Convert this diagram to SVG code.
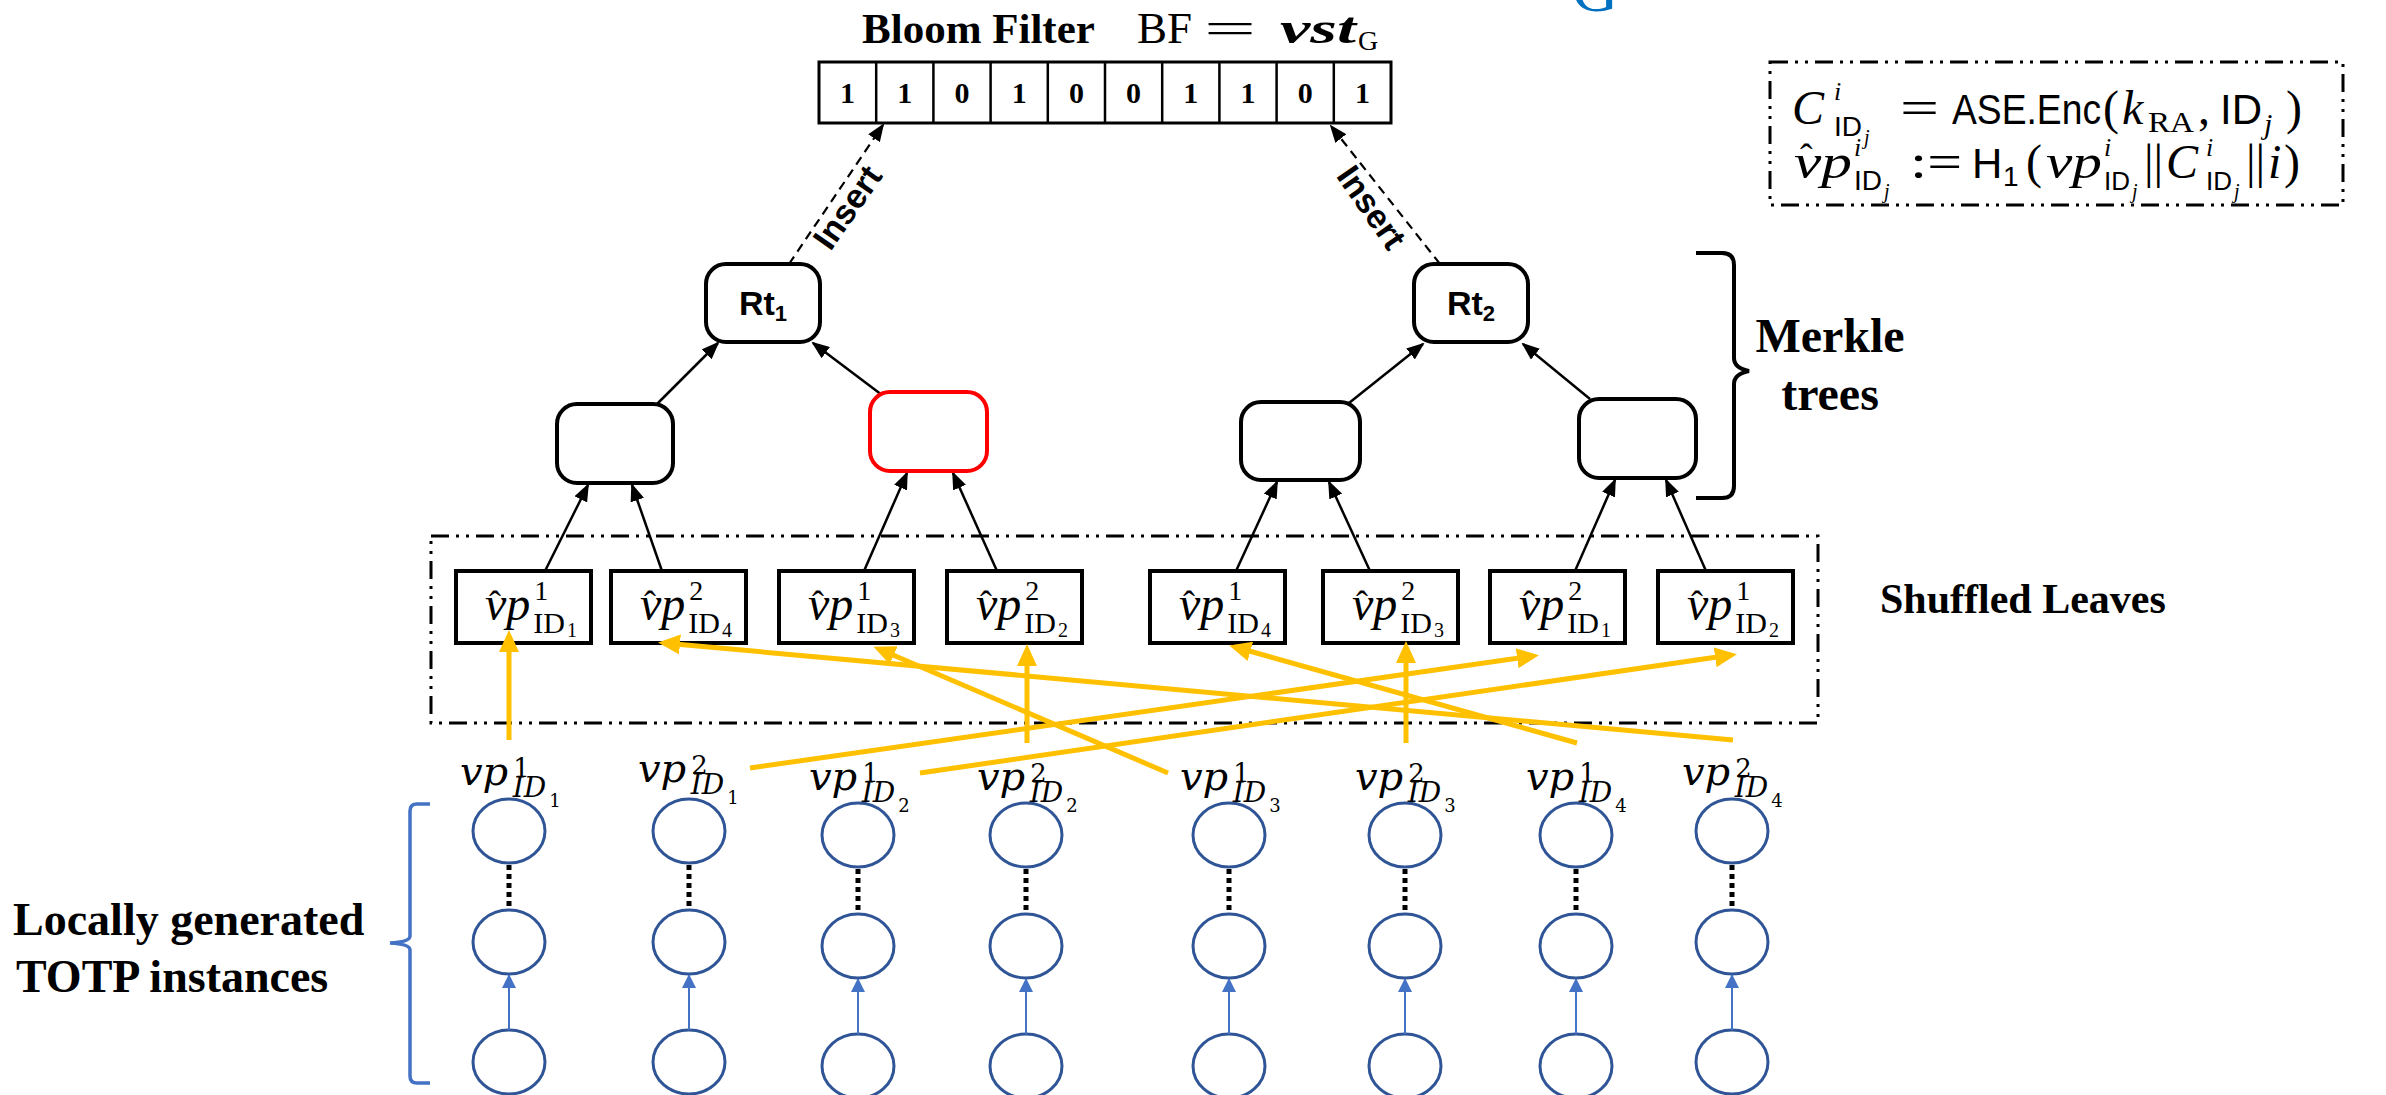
<svg xmlns="http://www.w3.org/2000/svg" width="2386" height="1095" viewBox="0 0 2386 1095">
<defs>
<style>
.sb{font-family:"Liberation Serif",serif;font-weight:bold;fill:#000}
.sr{font-family:"Liberation Serif",serif;fill:#000}
.si{font-family:"Liberation Serif",serif;font-style:italic;fill:#000}
.ss{font-family:"Liberation Sans",sans-serif;fill:#000}
.cm{font-family:"DejaVu Serif",serif;font-style:italic;fill:#000}
.up{font-style:normal}
.node{fill:#fff;stroke:#000;stroke-width:4}
.red{stroke:#FF0000}
.leaf{fill:#fff;stroke:#000;stroke-width:4}
.tree{stroke:#000;stroke-width:2.5;fill:none;marker-end:url(#ab)}
.ins{stroke:#000;stroke-width:2.2;fill:none;stroke-dasharray:9 6;marker-end:url(#ab)}
.yl{stroke:#FFC000;stroke-width:5;fill:none;marker-end:url(#ay)}
.ell{fill:#fff;stroke:#2F5597;stroke-width:3}
.dot{stroke:#000;stroke-width:5;stroke-dasharray:5 4;fill:none}
.bl{stroke:#4472C4;stroke-width:2;fill:none;marker-end:url(#abl)}
.dd{fill:none;stroke:#000;stroke-width:3;stroke-dasharray:18 7 3 7 3 7}
</style>
<marker id="ab" markerUnits="userSpaceOnUse" markerWidth="18" markerHeight="14" viewBox="0 0 18 14" refX="16" refY="7" orient="auto"><path d="M0,0 L18,7 L0,14 z" fill="#000"/></marker>
<marker id="ay" markerUnits="userSpaceOnUse" markerWidth="22" markerHeight="20" viewBox="0 0 22 20" refX="16" refY="10" orient="auto"><path d="M0,0 L22,10 L0,20 z" fill="#FFC000"/></marker>
<marker id="abl" markerUnits="userSpaceOnUse" markerWidth="14" markerHeight="14" viewBox="0 0 14 14" refX="13" refY="7" orient="auto"><path d="M0,0 L14,7 L0,14 z" fill="#4472C4"/></marker>
</defs>
<rect width="2386" height="1095" fill="#fff"/>

<g id="blue-g"><text x="1572" y="11" font-family="Liberation Serif, serif" font-size="64" fill="#0070C0">G</text></g>

<g id="bloom-filter">
<text x="862" y="43" class="sb" font-size="43">Bloom Filter</text>
<text x="1137" y="43" class="sr" font-size="45">BF</text>
<text x="1204" y="43" class="sr" font-size="45" textLength="52" lengthAdjust="spacingAndGlyphs">=</text>
<text x="1280" y="43" class="si" font-size="45" font-weight="bold" textLength="76" lengthAdjust="spacingAndGlyphs">vst</text>
<text x="1358" y="50" class="sr" font-size="28">G</text>
<rect x="819" y="62" width="572" height="61" fill="#fff" stroke="#000" stroke-width="3"/>
<g stroke="#000" stroke-width="2.5">
<line x1="876.2" y1="62" x2="876.2" y2="123"/><line x1="933.4" y1="62" x2="933.4" y2="123"/><line x1="990.6" y1="62" x2="990.6" y2="123"/><line x1="1047.8" y1="62" x2="1047.8" y2="123"/><line x1="1105" y1="62" x2="1105" y2="123"/><line x1="1162.2" y1="62" x2="1162.2" y2="123"/><line x1="1219.4" y1="62" x2="1219.4" y2="123"/><line x1="1276.6" y1="62" x2="1276.6" y2="123"/><line x1="1333.8" y1="62" x2="1333.8" y2="123"/>
</g>
<g class="sb" font-size="30" text-anchor="middle">
<text x="847.6" y="103">1</text><text x="904.8" y="103">1</text><text x="962" y="103">0</text><text x="1019.2" y="103">1</text><text x="1076.4" y="103">0</text><text x="1133.6" y="103">0</text><text x="1190.8" y="103">1</text><text x="1248" y="103">1</text><text x="1305.2" y="103">0</text><text x="1362.4" y="103">1</text>
</g>
</g>

<g id="formula-box">
<rect x="1770" y="62" width="573" height="143" class="dd"/>
<text y="124" class="sr" font-size="48"><tspan x="1792" class="si">C</tspan><tspan x="1834" y="100" class="si" font-size="26">i</tspan><tspan x="1834" y="136" class="ss" font-size="28">ID</tspan><tspan x="1864" y="144" class="si" font-size="20">j</tspan><tspan x="1900" y="124" textLength="39" lengthAdjust="spacingAndGlyphs">=</tspan><tspan x="1952" class="ss" font-size="42" textLength="149" lengthAdjust="spacingAndGlyphs">ASE.Enc</tspan><tspan x="2103">(</tspan><tspan x="2122" class="si">k</tspan><tspan x="2148" y="132" font-size="30" textLength="46" lengthAdjust="spacingAndGlyphs">RA</tspan><tspan x="2198" y="124">,</tspan><tspan x="2220" class="ss" font-size="42">ID</tspan><tspan x="2264" y="134" class="si" font-size="30">j</tspan><tspan x="2286" y="124">)</tspan></text>
<text y="178" class="sr" font-size="48"><tspan x="1794" class="si" textLength="58" lengthAdjust="spacingAndGlyphs">vp</tspan><tspan x="1854" y="156" class="si" font-size="26">i</tspan><tspan x="1854" y="190" class="ss" font-size="28">ID</tspan><tspan x="1884" y="198" class="si" font-size="20">j</tspan><tspan x="1910" y="178" textLength="52" lengthAdjust="spacingAndGlyphs">:=</tspan><tspan x="1972" class="ss" font-size="42">H</tspan><tspan x="2003" y="186" class="ss" font-size="28">1</tspan><tspan x="2026" y="178">(</tspan><tspan x="2046" class="si" textLength="56" lengthAdjust="spacingAndGlyphs">vp</tspan><tspan x="2104" y="156" class="si" font-size="26">i</tspan><tspan x="2104" y="190" class="ss" font-size="26">ID</tspan><tspan x="2132" y="198" class="si" font-size="20">j</tspan><tspan x="2144" y="178">||</tspan><tspan x="2166" class="si">C</tspan><tspan x="2206" y="156" class="si" font-size="26">i</tspan><tspan x="2206" y="190" class="ss" font-size="26">ID</tspan><tspan x="2234" y="198" class="si" font-size="20">j</tspan><tspan x="2246" y="178">||</tspan><tspan x="2268" class="si">i</tspan><tspan x="2284">)</tspan><tspan x="1800" y="170" font-size="38">ˆ</tspan></text>
</g>

<g id="connectors">
<path class="ins" d="M789,264 L883,125"/>
<path class="ins" d="M1440,264 L1331,126"/>
<path class="tree" d="M657,404 L718,343"/>
<path class="tree" d="M882,395 L813,343"/>
<path class="tree" d="M1349,403 L1423,344"/>
<path class="tree" d="M1590,399 L1523,344"/>
<path class="tree" d="M545,571 L588,485"/>
<path class="tree" d="M662,571 L632,485"/>
<path class="tree" d="M864,571 L907,473"/>
<path class="tree" d="M997,571 L953,473"/>
<path class="tree" d="M1236,571 L1277,482"/>
<path class="tree" d="M1370,571 L1329,482"/>
<path class="tree" d="M1575,571 L1615,480"/>
<path class="tree" d="M1706,571 L1666,480"/>
</g>

<g id="insert-labels" class="ss" font-weight="bold" font-size="34">
<text transform="translate(857,214) rotate(-55)" text-anchor="middle">Insert</text>
<text transform="translate(1362,214) rotate(55)" text-anchor="middle">Insert</text>
</g>

<g id="rt1"><rect class="node" x="706" y="264" width="114" height="78" rx="20"/><text x="763" y="315" class="ss" font-weight="bold" font-size="34" text-anchor="middle">Rt<tspan font-size="22" dy="6">1</tspan></text></g>
<g id="rt2"><rect class="node" x="1414" y="264" width="114" height="78" rx="20"/><text x="1471" y="315" class="ss" font-weight="bold" font-size="34" text-anchor="middle">Rt<tspan font-size="22" dy="6">2</tspan></text></g>
<g id="n-l1"><rect class="node" x="557" y="404" width="116" height="79" rx="20"/></g>
<g id="n-l2"><rect class="node red" x="870" y="392" width="117" height="79" rx="20"/></g>
<g id="n-r1"><rect class="node" x="1241" y="402" width="119" height="78" rx="20"/></g>
<g id="n-r2"><rect class="node" x="1579" y="399" width="117" height="79" rx="20"/></g>

<g id="merkle-brace">
<path d="M1696,253 L1722,253 Q1734,253 1734,265 L1734,358 Q1734,368 1749,371 Q1734,374 1734,384 L1734,486 Q1734,498 1722,498 L1696,498" fill="none" stroke="#000" stroke-width="4"/>
<text x="1830" y="352" class="sb" font-size="48" text-anchor="middle">Merkle</text>
<text x="1830" y="410" class="sb" font-size="48" text-anchor="middle">trees</text>
</g>

<g id="leaves-box"><rect x="431" y="536" width="1387" height="187" class="dd"/></g>
<text x="1880" y="613" class="sb" font-size="42">Shuffled Leaves</text>

<g id="leaf1"><rect class="leaf" x="456" y="571" width="135" height="72"/><text x="485" y="620" class="si" font-size="48">vp<tspan class="up" font-size="28" dx="4" dy="-20">1</tspan><tspan class="up" font-size="30" dx="-15" dy="33">ID</tspan><tspan class="up" font-size="20" dx="2" dy="4">1</tspan><tspan class="up" x="489" y="616" font-size="36">ˆ</tspan></text></g>
<g id="leaf2"><rect class="leaf red" x="611" y="571" width="135" height="72"/><text x="640" y="620" class="si" font-size="48">vp<tspan class="up" font-size="28" dx="4" dy="-20">2</tspan><tspan class="up" font-size="30" dx="-15" dy="33">ID</tspan><tspan class="up" font-size="20" dx="2" dy="4">4</tspan><tspan class="up" x="644" y="616" font-size="36">ˆ</tspan></text></g>
<g id="leaf3"><rect class="leaf" x="779" y="571" width="135" height="72"/><text x="808" y="620" class="si" font-size="48">vp<tspan class="up" font-size="28" dx="4" dy="-20">1</tspan><tspan class="up" font-size="30" dx="-15" dy="33">ID</tspan><tspan class="up" font-size="20" dx="2" dy="4">3</tspan><tspan class="up" x="812" y="616" font-size="36">ˆ</tspan></text></g>
<g id="leaf4"><rect class="leaf" x="947" y="571" width="135" height="72"/><text x="976" y="620" class="si" font-size="48">vp<tspan class="up" font-size="28" dx="4" dy="-20">2</tspan><tspan class="up" font-size="30" dx="-15" dy="33">ID</tspan><tspan class="up" font-size="20" dx="2" dy="4">2</tspan><tspan class="up" x="980" y="616" font-size="36">ˆ</tspan></text></g>
<g id="leaf5"><rect class="leaf" x="1150" y="571" width="135" height="72"/><text x="1179" y="620" class="si" font-size="48">vp<tspan class="up" font-size="28" dx="4" dy="-20">1</tspan><tspan class="up" font-size="30" dx="-15" dy="33">ID</tspan><tspan class="up" font-size="20" dx="2" dy="4">4</tspan><tspan class="up" x="1183" y="616" font-size="36">ˆ</tspan></text></g>
<g id="leaf6"><rect class="leaf" x="1323" y="571" width="135" height="72"/><text x="1352" y="620" class="si" font-size="48">vp<tspan class="up" font-size="28" dx="4" dy="-20">2</tspan><tspan class="up" font-size="30" dx="-15" dy="33">ID</tspan><tspan class="up" font-size="20" dx="2" dy="4">3</tspan><tspan class="up" x="1356" y="616" font-size="36">ˆ</tspan></text></g>
<g id="leaf7"><rect class="leaf" x="1490" y="571" width="135" height="72"/><text x="1519" y="620" class="si" font-size="48">vp<tspan class="up" font-size="28" dx="4" dy="-20">2</tspan><tspan class="up" font-size="30" dx="-15" dy="33">ID</tspan><tspan class="up" font-size="20" dx="2" dy="4">1</tspan><tspan class="up" x="1523" y="616" font-size="36">ˆ</tspan></text></g>
<g id="leaf8"><rect class="leaf" x="1658" y="571" width="135" height="72"/><text x="1687" y="620" class="si" font-size="48">vp<tspan class="up" font-size="28" dx="4" dy="-20">1</tspan><tspan class="up" font-size="30" dx="-15" dy="33">ID</tspan><tspan class="up" font-size="20" dx="2" dy="4">2</tspan><tspan class="up" x="1691" y="616" font-size="36">ˆ</tspan></text></g>

<g id="shuffle-arrows">
<path class="yl" d="M509,740 L509,636"/>
<path class="yl" d="M750,768 L1533,656"/>
<path class="yl" d="M920,773 L1731,655"/>
<path class="yl" d="M1027,743 L1027,650"/>
<path class="yl" d="M1168,773 L879,649"/>
<path class="yl" d="M1406,743 L1406,647"/>
<path class="yl" d="M1577,743 L1235,647"/>
<path class="yl" d="M1733,740 L664,643"/>
</g>

<g id="vp-labels" class="cm">
<text x="460" y="785" font-size="40">vp<tspan class="up" font-size="26" dx="5" dy="-8">1</tspan><tspan font-size="28" dx="-17" dy="20">ID</tspan><tspan class="up" font-size="18" dx="3" dy="10">1</tspan></text>
<text x="638" y="782" font-size="40">vp<tspan class="up" font-size="26" dx="5" dy="-8">2</tspan><tspan font-size="28" dx="-17" dy="20">ID</tspan><tspan class="up" font-size="18" dx="3" dy="10">1</tspan></text>
<text x="809" y="790" font-size="40">vp<tspan class="up" font-size="26" dx="5" dy="-8">1</tspan><tspan font-size="28" dx="-17" dy="20">ID</tspan><tspan class="up" font-size="18" dx="3" dy="10">2</tspan></text>
<text x="977" y="790" font-size="40">vp<tspan class="up" font-size="26" dx="5" dy="-8">2</tspan><tspan font-size="28" dx="-17" dy="20">ID</tspan><tspan class="up" font-size="18" dx="3" dy="10">2</tspan></text>
<text x="1180" y="790" font-size="40">vp<tspan class="up" font-size="26" dx="5" dy="-8">1</tspan><tspan font-size="28" dx="-17" dy="20">ID</tspan><tspan class="up" font-size="18" dx="3" dy="10">3</tspan></text>
<text x="1355" y="790" font-size="40">vp<tspan class="up" font-size="26" dx="5" dy="-8">2</tspan><tspan font-size="28" dx="-17" dy="20">ID</tspan><tspan class="up" font-size="18" dx="3" dy="10">3</tspan></text>
<text x="1526" y="790" font-size="40">vp<tspan class="up" font-size="26" dx="5" dy="-8">1</tspan><tspan font-size="28" dx="-17" dy="20">ID</tspan><tspan class="up" font-size="18" dx="3" dy="10">4</tspan></text>
<text x="1682" y="785" font-size="40">vp<tspan class="up" font-size="26" dx="5" dy="-8">2</tspan><tspan font-size="28" dx="-17" dy="20">ID</tspan><tspan class="up" font-size="18" dx="3" dy="10">4</tspan></text>
</g>

<g id="totp-chains">
<g><ellipse class="ell" cx="509" cy="831" rx="36" ry="32"/><ellipse class="ell" cx="509" cy="942" rx="36" ry="32"/><ellipse class="ell" cx="509" cy="1062" rx="36" ry="32"/><line class="dot" x1="509" y1="865" x2="509" y2="908"/><line class="bl" x1="509" y1="1030" x2="509" y2="975"/></g>
<g><ellipse class="ell" cx="689" cy="831" rx="36" ry="32"/><ellipse class="ell" cx="689" cy="942" rx="36" ry="32"/><ellipse class="ell" cx="689" cy="1062" rx="36" ry="32"/><line class="dot" x1="689" y1="865" x2="689" y2="908"/><line class="bl" x1="689" y1="1030" x2="689" y2="975"/></g>
<g><ellipse class="ell" cx="858" cy="835" rx="36" ry="32"/><ellipse class="ell" cx="858" cy="946" rx="36" ry="32"/><ellipse class="ell" cx="858" cy="1066" rx="36" ry="32"/><line class="dot" x1="858" y1="869" x2="858" y2="912"/><line class="bl" x1="858" y1="1034" x2="858" y2="979"/></g>
<g><ellipse class="ell" cx="1026" cy="835" rx="36" ry="32"/><ellipse class="ell" cx="1026" cy="946" rx="36" ry="32"/><ellipse class="ell" cx="1026" cy="1066" rx="36" ry="32"/><line class="dot" x1="1026" y1="869" x2="1026" y2="912"/><line class="bl" x1="1026" y1="1034" x2="1026" y2="979"/></g>
<g><ellipse class="ell" cx="1229" cy="835" rx="36" ry="32"/><ellipse class="ell" cx="1229" cy="946" rx="36" ry="32"/><ellipse class="ell" cx="1229" cy="1066" rx="36" ry="32"/><line class="dot" x1="1229" y1="869" x2="1229" y2="912"/><line class="bl" x1="1229" y1="1034" x2="1229" y2="979"/></g>
<g><ellipse class="ell" cx="1405" cy="835" rx="36" ry="32"/><ellipse class="ell" cx="1405" cy="946" rx="36" ry="32"/><ellipse class="ell" cx="1405" cy="1066" rx="36" ry="32"/><line class="dot" x1="1405" y1="869" x2="1405" y2="912"/><line class="bl" x1="1405" y1="1034" x2="1405" y2="979"/></g>
<g><ellipse class="ell" cx="1576" cy="835" rx="36" ry="32"/><ellipse class="ell" cx="1576" cy="946" rx="36" ry="32"/><ellipse class="ell" cx="1576" cy="1066" rx="36" ry="32"/><line class="dot" x1="1576" y1="869" x2="1576" y2="912"/><line class="bl" x1="1576" y1="1034" x2="1576" y2="979"/></g>
<g><ellipse class="ell" cx="1732" cy="831" rx="36" ry="32"/><ellipse class="ell" cx="1732" cy="942" rx="36" ry="32"/><ellipse class="ell" cx="1732" cy="1062" rx="36" ry="32"/><line class="dot" x1="1732" y1="865" x2="1732" y2="908"/><line class="bl" x1="1732" y1="1030" x2="1732" y2="975"/></g>
</g>

<g id="totp-brace">
<path d="M430,804 L417,804 Q410,804 410,811 L410,936 Q410,942 390,943 Q410,944 410,950 L410,1076 Q410,1083 417,1083 L430,1083" fill="none" stroke="#4472C4" stroke-width="3.5"/>
<text x="13" y="935" class="sb" font-size="46">Locally generated</text>
<text x="16" y="992" class="sb" font-size="46">TOTP instances</text>
</g>
</svg>
